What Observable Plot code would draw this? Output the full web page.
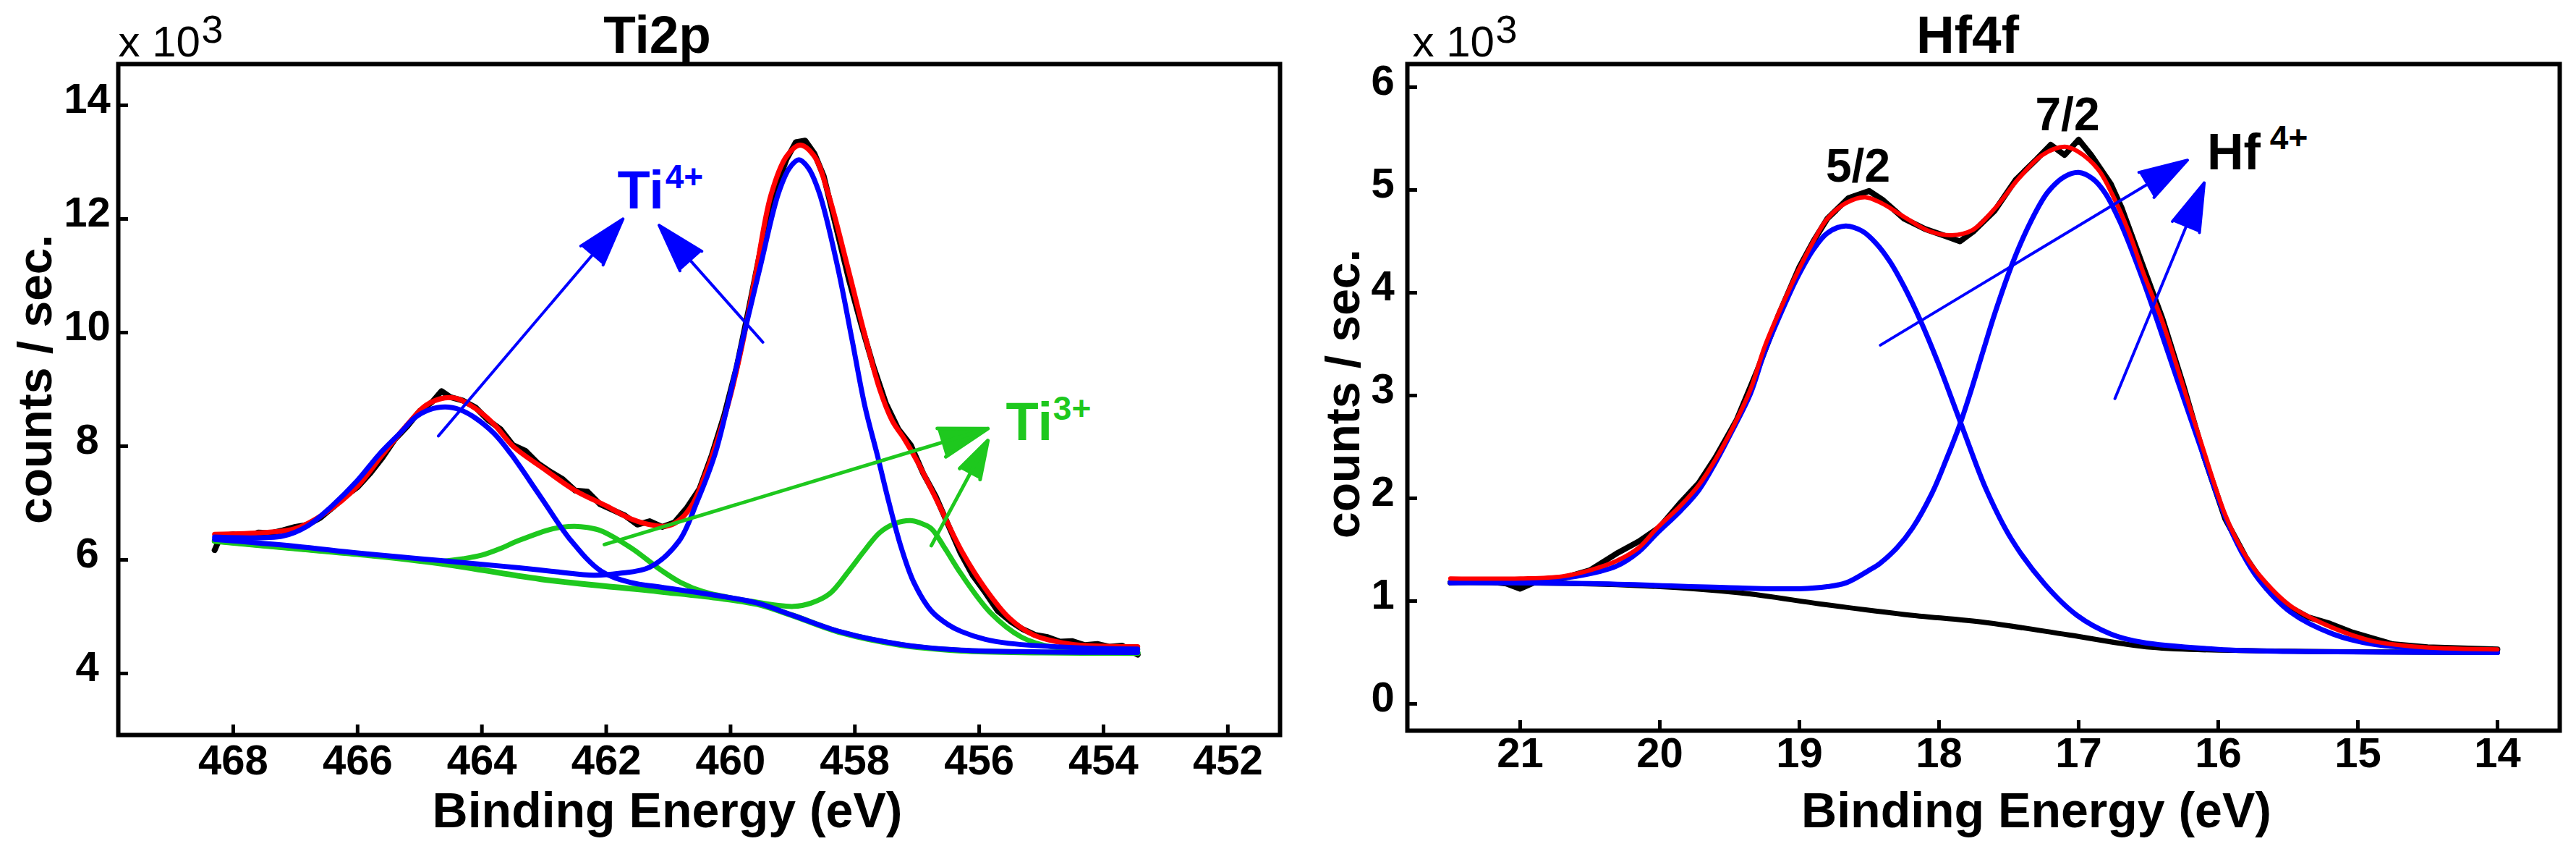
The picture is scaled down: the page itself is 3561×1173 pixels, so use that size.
<!DOCTYPE html>
<html>
<head>
<meta charset="utf-8">
<script src="https://cdn.jsdelivr.net/npm/d3@7"></script>
<script src="https://cdn.jsdelivr.net/npm/@observablehq/plot@0.6"></script>
<style>
  html, body { margin: 0; padding: 0; background: white; }
  #chart { display: flex; width: 3561px; height: 1173px; }
</style>
</head>
<body>
<div id="chart"></div>
<script>
// ---------- Ti2p panel (binding energy eV, counts x 10^3) ----------
const ti2pTicksX = [468, 466, 464, 462, 460, 458, 456, 454, 452]
const ti2pTicksY = [4, 6, 8, 10, 12, 14]

// measured spectrum (noisy)
const ti2pRaw = [
  [468.3, 6.17], [468.2, 6.42], [468.0, 6.45], [467.8, 6.40], [467.6, 6.48], [467.4, 6.47],
  [467.2, 6.52], [467.0, 6.58], [466.8, 6.62], [466.6, 6.74], [466.4, 6.92], [466.2, 7.12],
  [466.0, 7.28], [465.8, 7.52], [465.6, 7.80], [465.4, 8.12], [465.2, 8.35], [465.0, 8.62],
  [464.8, 8.78], [464.65, 8.97], [464.5, 8.86], [464.3, 8.80], [464.1, 8.68], [463.9, 8.46],
  [463.7, 8.30], [463.5, 8.02], [463.3, 7.92], [463.1, 7.70], [462.9, 7.55], [462.7, 7.42],
  [462.5, 7.22], [462.3, 7.20], [462.1, 6.98], [461.9, 6.88], [461.7, 6.78], [461.5, 6.62],
  [461.3, 6.68], [461.1, 6.58], [460.9, 6.66], [460.7, 6.92], [460.5, 7.25], [460.3, 7.85],
  [460.1, 8.55], [459.9, 9.40], [459.7, 10.45], [459.5, 11.55], [459.3, 12.45], [459.1, 13.05],
  [458.95, 13.35], [458.8, 13.38], [458.65, 13.15], [458.5, 12.75], [458.3, 11.85], [458.1, 10.95],
  [457.9, 10.15], [457.7, 9.40], [457.5, 8.75], [457.3, 8.30], [457.1, 8.02], [456.9, 7.52],
  [456.7, 7.12], [456.5, 6.62], [456.3, 6.12], [456.1, 5.72], [455.9, 5.42], [455.7, 5.10],
  [455.5, 4.92], [455.3, 4.78], [455.1, 4.68], [454.9, 4.64], [454.7, 4.56], [454.5, 4.57],
  [454.3, 4.50], [454.1, 4.52], [453.9, 4.47], [453.7, 4.49], [453.45, 4.33]
]

// envelope of the fit
const ti2pFit = [
  [468.3, 6.45], [467.5, 6.48], [467.0, 6.55], [466.5, 6.84], [466.0, 7.30], [465.6, 7.85],
  [465.2, 8.38], [464.9, 8.72], [464.6, 8.85], [464.4, 8.84], [464.1, 8.66], [463.8, 8.38],
  [463.5, 8.00], [463.0, 7.60], [462.5, 7.22], [462.0, 6.95], [461.6, 6.72], [461.2, 6.60],
  [461.0, 6.60], [460.8, 6.72], [460.6, 7.00], [460.4, 7.52], [460.2, 8.15], [460.0, 8.90],
  [459.8, 9.85], [459.6, 11.00], [459.35, 12.42], [459.1, 13.10], [458.88, 13.30], [458.65, 13.10],
  [458.43, 12.45], [458.12, 11.17], [457.85, 10.00], [457.6, 9.00], [457.4, 8.45], [457.2, 8.12],
  [457.0, 7.74], [456.67, 7.02], [456.29, 6.17], [455.9, 5.49], [455.52, 4.98], [455.13, 4.68],
  [454.55, 4.52], [454.0, 4.48], [453.45, 4.47]
]

// Ti4+ 2p1/2 component on its background
const ti4Comp1 = [
  [468.3, 6.40], [467.2, 6.42], [466.8, 6.60], [466.43, 6.93], [466.0, 7.40], [465.65, 7.86],
  [465.3, 8.25], [465.08, 8.50], [464.85, 8.64], [464.59, 8.69], [464.35, 8.64], [464.11, 8.50],
  [463.8, 8.22], [463.53, 7.86], [463.05, 7.10], [462.56, 6.33], [462.08, 5.80], [461.6, 5.60],
  [461.12, 5.52], [460.15, 5.36], [459.57, 5.24], [458.99, 5.02], [458.22, 4.73], [457.25, 4.51],
  [456.29, 4.41], [455.0, 4.38], [453.45, 4.37]
]

// Ti4+ 2p3/2 component on its background
const ti4Comp2 = [
  [468.3, 6.36], [467.0, 6.24], [466.0, 6.12], [465.0, 6.02], [464.0, 5.92], [463.4, 5.86],
  [462.8, 5.79], [462.2, 5.73], [461.8, 5.76], [461.3, 5.87], [460.83, 6.33], [460.54, 7.02],
  [460.25, 7.86], [460.05, 8.71], [459.8, 9.90], [459.52, 11.17], [459.23, 12.45], [459.05, 12.90],
  [458.9, 13.04], [458.75, 12.90], [458.57, 12.45], [458.28, 11.17], [458.05, 9.90], [457.84, 8.71],
  [457.64, 7.85], [457.45, 7.00], [457.25, 6.20], [457.05, 5.60], [456.77, 5.10], [456.5, 4.86],
  [456.29, 4.74], [455.9, 4.60], [455.52, 4.53], [454.36, 4.45], [453.45, 4.43]
]

// Ti3+ components (both peaks) and their background
const ti3Comp = [
  [468.3, 6.33], [467.0, 6.20], [466.0, 6.10], [465.0, 6.00], [464.69, 5.97], [464.3, 6.02],
  [464.01, 6.08], [463.7, 6.20], [463.43, 6.33], [462.85, 6.55], [462.52, 6.59], [462.3, 6.57],
  [462.08, 6.51], [461.6, 6.21], [461.12, 5.82], [460.8, 5.60], [460.44, 5.44], [459.67, 5.27],
  [458.99, 5.18], [458.7, 5.24], [458.41, 5.40], [458.1, 5.80], [457.84, 6.17], [457.6, 6.48],
  [457.35, 6.64], [457.11, 6.69], [456.95, 6.65], [456.77, 6.55], [456.55, 6.20], [456.29, 5.75],
  [455.81, 5.06], [455.32, 4.64], [454.84, 4.47], [454.2, 4.43], [453.45, 4.42]
]
const ti3Base = [
  [468.3, 6.33], [467.0, 6.20], [466.0, 6.10], [464.69, 5.94], [463.05, 5.66], [461.12, 5.44],
  [460.15, 5.32], [459.57, 5.22], [459.0, 5.02], [458.22, 4.72], [457.25, 4.50], [456.29, 4.40],
  [455.0, 4.37], [453.45, 4.36]
]

const ti4Arrows = [
  {x1: 464.70, y1: 8.18, x2: 461.73, y2: 12.00},
  {x1: 459.48, y1: 9.83, x2: 461.15, y2: 11.89}
]
const ti3Arrows = [
  {x1: 462.03, y1: 6.27, x2: 455.86, y2: 8.31},
  {x1: 456.77, y1: 6.25, x2: 455.86, y2: 8.10}
]
const ti2pLabels = [{x: 461.82, y: 12.18, text: "Ti", sup: "4+", sx: 461.05, sy: 12.54, ion: "4"},
                    {x: 455.57, y: 8.11, text: "Ti", sup: "3+", sx: 454.81, sy: 8.47, ion: "3"}]

// ---------- Hf4f panel ----------
const hf4fTicksX = [21, 20, 19, 18, 17, 16, 15, 14]
const hf4fTicksY = [0, 1, 2, 3, 4, 5, 6]

const hf4fRaw = [
  [21.5, 1.18], [21.3, 1.20], [21.1, 1.17], [21.0, 1.12], [20.9, 1.18], [20.7, 1.22],
  [20.5, 1.30], [20.3, 1.47], [20.15, 1.58], [20.0, 1.72], [19.85, 1.96], [19.72, 2.15],
  [19.6, 2.40], [19.45, 2.76], [19.3, 3.25], [19.15, 3.78], [19.0, 4.25], [18.9, 4.50],
  [18.8, 4.72], [18.65, 4.92], [18.5, 4.99], [18.4, 4.90], [18.25, 4.72], [18.1, 4.62],
  [17.95, 4.55], [17.85, 4.50], [17.75, 4.60], [17.6, 4.80], [17.45, 5.10], [17.3, 5.30],
  [17.2, 5.44], [17.1, 5.34], [17.0, 5.49], [16.91, 5.34], [16.77, 5.06], [16.69, 4.82],
  [16.55, 4.30], [16.4, 3.75], [16.25, 3.10], [16.1, 2.40], [15.95, 1.80], [15.8, 1.42],
  [15.65, 1.12], [15.5, 0.95], [15.35, 0.84], [15.2, 0.78], [15.05, 0.70], [14.9, 0.64],
  [14.75, 0.58], [14.5, 0.55], [14.0, 0.53]
]
const hf4fFit = [
  [21.5, 1.22], [21.0, 1.22], [20.7, 1.24], [20.5, 1.30], [20.31, 1.39], [20.15, 1.52],
  [20.02, 1.71], [19.85, 1.93], [19.72, 2.13], [19.6, 2.38], [19.48, 2.68], [19.35, 3.06],
  [19.25, 3.47], [19.1, 3.95], [19.01, 4.21], [18.9, 4.50], [18.8, 4.72], [18.67, 4.87],
  [18.53, 4.93], [18.41, 4.87], [18.24, 4.73], [18.07, 4.60], [17.91, 4.56], [17.76, 4.61],
  [17.6, 4.82], [17.43, 5.11], [17.26, 5.34], [17.1, 5.42], [17.0, 5.37], [16.86, 5.20],
  [16.76, 4.96], [16.64, 4.59], [16.53, 4.17], [16.4, 3.72], [16.3, 3.30], [16.12, 2.53],
  [15.95, 1.84], [15.83, 1.50], [15.71, 1.26], [15.48, 0.95], [15.18, 0.74], [14.89, 0.61],
  [14.53, 0.55], [14.0, 0.53]
]
const hf52 = [
  [21.5, 1.18], [20.9, 1.20], [20.6, 1.24], [20.31, 1.34], [20.15, 1.48], [20.02, 1.66],
  [19.85, 1.88], [19.72, 2.08], [19.6, 2.35], [19.48, 2.66], [19.35, 3.02], [19.25, 3.42],
  [19.1, 3.90], [19.01, 4.16], [18.9, 4.42], [18.8, 4.58], [18.67, 4.65], [18.55, 4.60],
  [18.45, 4.48], [18.35, 4.30], [18.25, 4.06], [18.13, 3.72], [18.01, 3.33], [17.83, 2.68],
  [17.66, 2.08], [17.48, 1.60], [17.24, 1.16], [17.01, 0.86], [16.77, 0.68], [16.55, 0.60],
  [16.0, 0.53], [15.5, 0.51], [14.0, 0.50]
]
const hf72 = [
  [21.5, 1.18], [20.5, 1.17], [19.5, 1.13], [19.0, 1.12], [18.8, 1.14], [18.66, 1.18],
  [18.5, 1.30], [18.42, 1.37], [18.3, 1.52], [18.19, 1.71], [18.05, 2.05], [17.95, 2.37],
  [17.85, 2.72], [17.77, 3.05], [17.68, 3.45], [17.6, 3.80], [17.47, 4.30], [17.34, 4.70],
  [17.22, 4.98], [17.1, 5.13], [17.0, 5.17], [16.9, 5.11], [16.81, 4.97], [16.7, 4.68],
  [16.56, 4.20], [16.45, 3.78], [16.3, 3.18], [16.12, 2.47], [15.95, 1.82], [15.83, 1.47],
  [15.71, 1.21], [15.48, 0.89], [15.18, 0.68], [14.89, 0.58], [14.41, 0.53], [14.0, 0.50]
]
const hf4fBase = [
  [21.5, 1.18], [20.31, 1.16], [19.43, 1.08], [18.84, 0.97], [18.25, 0.87], [17.66, 0.79],
  [17.07, 0.67], [16.48, 0.55], [15.89, 0.52], [14.0, 0.50]
]
const hfArrows = [
  {x1: 18.42, y1: 3.49, x2: 16.22, y2: 5.29},
  {x1: 16.74, y1: 2.97, x2: 16.10, y2: 5.07}
]
const hfPeakLabels = [{x: 18.58, y: 5.08, text: "5/2"}, {x: 17.08, y: 5.58, text: "7/2"}]
const hfIon = [{x: 16.08, y: 5.20, text: "Hf", sup: "4+", sx: 15.63, sy: 5.40}]

// ---------- drawing ----------
const FONT = "'Liberation Sans', Arial, Helvetica, sans-serif"
const BLUE = "#0000ff"
const GREEN = "#1ec81e"
const RED = "#ff0000"
const curve = "catmull-rom"
const px = d => d[0]
const py = d => d[1]
const TICK = 14

function frameMarks(o) {
  // frame, inward ticks, tick labels, titles in the margins
  const fw = o.width - o.marginLeft - o.marginRight
  const fh = o.height - o.marginTop - o.marginBottom
  return [
    Plot.frame({strokeWidth: 6}),
    Plot.tickX(o.ticksX, {x: d => d, insetTop: fh - TICK, strokeWidth: 5, strokeLinecap: "butt"}),
    Plot.tickY(o.ticksY, {y: d => d, insetRight: fw - TICK, strokeWidth: 5, strokeLinecap: "butt"}),
    Plot.axisX(o.ticksX, {tickSize: 0, tickPadding: o.padX, tickFormat: "d",
      fontSize: 58, fontWeight: "bold", label: null}),
    Plot.axisY(o.ticksY, {tickSize: 0, tickPadding: o.padY, tickFormat: "d", textAnchor: "middle",
      dy: -8, fontSize: 58, fontWeight: "bold", label: null}),
    Plot.text([o.title], {text: d => d, frameAnchor: "top", lineAnchor: "bottom",
      dx: o.titleDx, dy: -16, fontSize: 73, fontWeight: "bold"}),
    Plot.text(["x 10"], {text: d => d, frameAnchor: "top-left", textAnchor: "start",
      lineAnchor: "bottom", dx: o.expDx, dy: -11, fontSize: 60}),
    Plot.text(["3"], {text: d => d, frameAnchor: "top-left", textAnchor: "start",
      lineAnchor: "bottom", dx: o.expDx + 115, dy: -30, fontSize: 54}),
    Plot.text(["Binding Energy (eV)"], {text: d => d, frameAnchor: "bottom", lineAnchor: "bottom",
      dx: o.xLabelDx, dy: o.xLabelDy, fontSize: 68, fontWeight: "bold"}),
    Plot.text(["counts / sec."], {text: d => d, frameAnchor: "left", rotate: -90,
      textAnchor: "middle", lineAnchor: "bottom", dx: o.yLabelDx, dy: o.yLabelDy,
      fontSize: 66, fontWeight: "bold"})
  ]
}

const ti2pSize = {width: 1780, height: 1173, marginLeft: 163, marginRight: 11, marginTop: 88, marginBottom: 158}
const ti2p = Plot.plot({
  ...ti2pSize,
  style: {fontFamily: FONT, background: "white", color: "black", overflow: "visible"},
  x: {domain: [469.85, 451.16]},
  y: {domain: [2.917, 14.726]},
  marks: [
    Plot.line(ti2pRaw, {x: px, y: py, stroke: "black", strokeWidth: 8, strokeLinejoin: "round"}),
    Plot.line(ti2pFit, {x: px, y: py, stroke: RED, strokeWidth: 7, curve}),
    Plot.line(ti3Base, {x: px, y: py, stroke: GREEN, strokeWidth: 8, curve}),
    Plot.line(ti3Comp, {x: px, y: py, stroke: GREEN, strokeWidth: 7, curve}),
    Plot.line(ti4Comp1, {x: px, y: py, stroke: BLUE, strokeWidth: 7, curve}),
    Plot.line(ti4Comp2, {x: px, y: py, stroke: BLUE, strokeWidth: 7, curve}),
    Plot.arrow(ti4Arrows, {x1: "x1", y1: "y1", x2: "x2", y2: "y2", stroke: BLUE, fill: BLUE,
      strokeWidth: 4, headLength: 26, headAngle: 34}),
    Plot.arrow(ti3Arrows, {x1: "x1", y1: "y1", x2: "x2", y2: "y2", stroke: GREEN, fill: GREEN,
      strokeWidth: 5, headLength: 21, headAngle: 34}),
    Plot.text(ti2pLabels, {x: "x", y: "y", text: "text", textAnchor: "start", lineAnchor: "bottom",
      fill: d => d.ion === "4" ? BLUE : GREEN, fontSize: 74, fontWeight: "bold"}),
    Plot.text(ti2pLabels, {x: "sx", y: "sy", text: "sup", textAnchor: "start", lineAnchor: "bottom",
      fill: d => d.ion === "4" ? BLUE : GREEN, fontSize: 46, fontWeight: "bold"}),
    ...frameMarks({...ti2pSize, ticksX: ti2pTicksX, ticksY: ti2pTicksY, padX: 13, padY: 43, title: "Ti2p",
      titleDx: -58, expDx: 0, xLabelDx: -44, xLabelDy: 127, yLabelDx: -93, yLabelDy: -28})
  ]
})

const hf4fSize = {width: 1781, height: 1173, marginLeft: 165, marginRight: 23, marginTop: 88, marginBottom: 164}
const hf4f = Plot.plot({
  ...hf4fSize,
  style: {fontFamily: FONT, background: "white", color: "black", overflow: "visible"},
  x: {domain: [21.808, 13.554]},
  y: {domain: [-0.261, 6.225]},
  marks: [
    Plot.line(hf4fRaw, {x: px, y: py, stroke: "black", strokeWidth: 8, strokeLinejoin: "round"}),
    Plot.line(hf4fBase, {x: px, y: py, stroke: "black", strokeWidth: 7, curve}),
    Plot.line(hf52, {x: px, y: py, stroke: BLUE, strokeWidth: 7, curve}),
    Plot.line(hf72, {x: px, y: py, stroke: BLUE, strokeWidth: 7, curve}),
    Plot.line(hf4fFit, {x: px, y: py, stroke: RED, strokeWidth: 6, curve}),
    Plot.arrow(hfArrows, {x1: "x1", y1: "y1", x2: "x2", y2: "y2", stroke: BLUE, fill: BLUE,
      strokeWidth: 4, headLength: 26, headAngle: 34}),
    Plot.text(hfPeakLabels, {x: "x", y: "y", text: "text", lineAnchor: "bottom",
      fontSize: 64, fontWeight: "bold"}),
    Plot.text(hfIon, {x: "x", y: "y", text: "text", textAnchor: "start", lineAnchor: "bottom",
      fontSize: 70, fontWeight: "bold"}),
    Plot.text(hfIon, {x: "sx", y: "sy", text: "sup", textAnchor: "start", lineAnchor: "bottom",
      fontSize: 46, fontWeight: "bold"}),
    ...frameMarks({...hf4fSize, ticksX: hf4fTicksX, ticksY: hf4fTicksY, padX: 9, padY: 34, title: "Hf4f",
      titleDx: -22, expDx: 7, xLabelDx: 73, xLabelDy: 133, yLabelDx: -67, yLabelDy: -5})
  ]
})

d3.select('#chart').append(() => ti2p)
d3.select('#chart').append(() => hf4f)
</script>
</body>
</html>
